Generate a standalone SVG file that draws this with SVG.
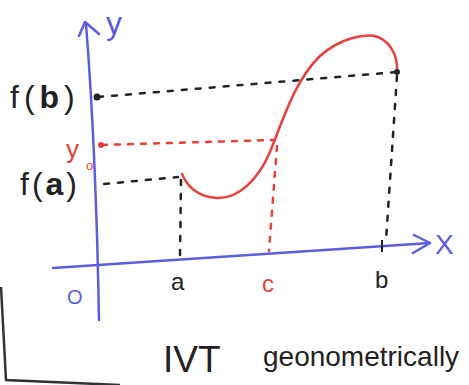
<svg xmlns="http://www.w3.org/2000/svg" width="469" height="385" viewBox="0 0 469 385">
<style>
.ax{fill:none;stroke:#5c5ce0;stroke-width:2.5;stroke-linecap:round;stroke-linejoin:round}
.blk{fill:none;stroke:#222;stroke-width:2.5;stroke-dasharray:5 9;stroke-linecap:round}
.red{fill:none;stroke:#e8403a;stroke-width:2.5;stroke-dasharray:5 8;stroke-linecap:round}
.curve{fill:none;stroke:#e8403a;stroke-width:2.5;stroke-linecap:round}
.t{font-family:"Liberation Sans","DejaVu Sans",sans-serif;fill:#222}
.tb{font-family:"Liberation Sans","DejaVu Sans",sans-serif;fill:#5c5ce0}
.tr{font-family:"Liberation Sans","DejaVu Sans",sans-serif;fill:#e8403a}
</style>
<rect width="469" height="385" fill="#fff"/>
<g id="frame">
<path d="M1,287 Q4,340 6,380 L120,385" fill="none" stroke="#333" stroke-width="2.5"/>
</g>
<g id="connectors">
<path class="blk" d="M98,97 L397,72"/>
<path class="blk" d="M397,76 L386,240"/>
<path class="blk" d="M104,184 L178,177"/>
<path class="blk" d="M181,180 L180,257"/>
<path class="red" d="M102,145 L275,140"/>
<path class="red" d="M277,146 L269,251"/>
</g>
<g id="axes">
<path class="ax" d="M86,24 Q96,150 99,320"/>
<path class="ax" d="M79,36 L85,22 L99,34"/>
<path class="ax" d="M53,268 L430,243"/>
<path class="ax" d="M414,235 L430,243 L413,253"/>
<path d="M382,240 L382,252" stroke="#222" stroke-width="2"/>
</g>
<g id="curve">
<path class="curve" d="M182,174 C188,188 200,197 217,198 C238,199 258,180 270,152 C283,120 295,80 320,56 C340,38 365,33 378,37 C392,43 398,58 397,72"/>
</g>
<g id="points">
<circle cx="97" cy="97" r="3.5" fill="#222"/>
<circle cx="101" cy="145" r="3" fill="#e8403a"/>
<circle cx="397" cy="72" r="3" fill="#222"/>
</g>
<g id="labels">
<text class="tb" x="106" y="34" font-size="32">y</text>
<text class="tb" x="435" y="254" font-size="28">X</text>
<text class="tb" x="67" y="304" font-size="20">O</text>
<text class="t" x="10" y="108" font-size="32" letter-spacing="5">f(<tspan font-weight="bold">b</tspan>)</text>
<text class="tr" x="66" y="158" font-size="26">y</text>
<text class="tr" x="86" y="170" font-size="13">o</text>
<text class="t" x="20" y="195" font-size="32" letter-spacing="3">f(<tspan font-weight="bold">a</tspan>)</text>
<text class="t" x="171" y="290" font-size="24">a</text>
<text class="tr" x="262" y="292" font-size="24">c</text>
<text class="t" x="375" y="288" font-size="24">b</text>
<text class="t" x="163" y="372" font-size="37">IVT</text>
<text class="t" x="263" y="366" font-size="28">geonometrically</text>
</g>
</svg>
